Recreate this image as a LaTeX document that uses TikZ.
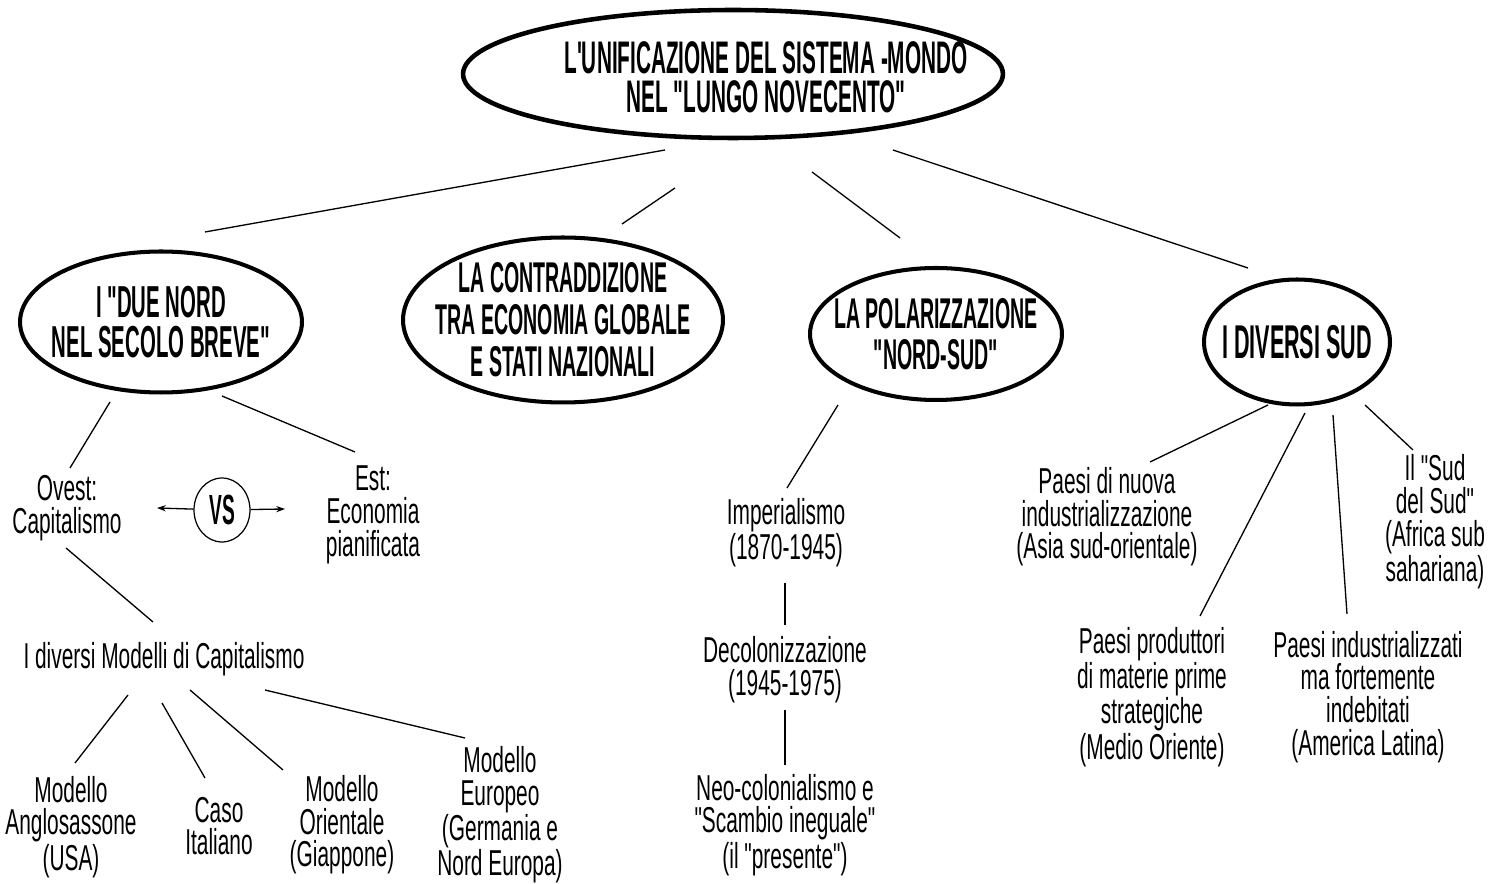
\documentclass[tikz,border=0pt]{standalone}
\usepackage{fontspec}
\setmainfont{Liberation Sans}
\newfontfamily\headfont{Liberation Sans}[FakeStretch=0.455]
\newfontfamily\bodyfont{Liberation Sans}[FakeStretch=0.58]
\usetikzlibrary{shapes.geometric, arrows.meta, calc}
\tikzset{
  bigoval/.style={ellipse, draw, line width=2.3pt, align=center, inner sep=-1.2cm},
  ovaltext/.style 2 args={align=center, font=\headfont\bfseries\fontsize{#1}{#2}\selectfont},
  leaf/.style={align=center, inner sep=1pt, font=\bodyfont\fontsize{20.5}{18.6}\selectfont},
  link/.style={line width=0.75pt},
}

\begin{document}
\begin{tikzpicture}[x=0.02cm, y=-0.02cm]
      \useasboundingbox (0,0) rectangle (1489,884);

      \node[bigoval, line width=2.6pt, minimum width=10.8cm, minimum height=2.56cm] (mondo) at (733,74) {};
      \node[ovaltext={26}{22}, inner sep=0pt] (mondotesto) at (766,77) {L'UNIFICAZIONE DEL SISTEMA -MONDO\\NEL "LUNGO NOVECENTO"};

      \node[bigoval, ovaltext={25.5}{22.5}, minimum width=5.64cm, minimum height=2.82cm] (nord) at (161,322) {I "DUE NORD\\NEL SECOLO BREVE"};
      \node[bigoval, ovaltext={24.5}{24}, minimum width=6.4cm, minimum height=3.3cm] (contr) at (563,320) {LA CONTRADDIZIONE\\TRA ECONOMIA GLOBALE\\E STATI NAZIONALI};
      \node[bigoval, ovaltext={24.5}{23}, minimum width=5.04cm, minimum height=2.64cm] (polar) at (936,334) {LA POLARIZZAZIONE\\"NORD-SUD"};
      \node[bigoval, ovaltext={27}{22}, minimum width=3.72cm, minimum height=2.5cm] (sud) at (1297,342) {I DIVERSI SUD};

      \node[leaf] (ovest) at (67,508) {Ovest:\\Capitalismo};
      \node[ellipse, draw, line width=0.7pt, inner sep=0pt, minimum width=1.12cm, minimum height=1.28cm,
        ovaltext={24}{20}] (vs) at (222,510) {VS};
      \node[leaf] (est) at (373,515) {Est:\\Economia\\pianificata};
      \node[leaf] (modelli) at (164,659) {I diversi Modelli di Capitalismo};
      \node[leaf] (anglo) at (71,827) {Modello\\Anglosassone\\(USA)};
      \node[leaf] (italia) at (219,826) {Caso\\Italiano};
      \node[leaf] (oriente) at (342,825) {Modello\\Orientale\\(Giappone)};
      \node[leaf] (europa) at (500,815) {Modello\\Europeo\\(Germania e\\Nord Europa)};

      \node[leaf] (imper) at (786,533) {Imperialismo\\(1870-1945)};
      \node[leaf] (decol) at (785,670) {Decolonizzazione\\(1945-1975)};
      \node[leaf] (neocol) at (785,825) {Neo-colonialismo e\\"Scambio ineguale"\\(il "presente")};

      \node[leaf] (nuovi) at (1107,517) {Paesi di nuova\\industrializzazione\\(Asia sud-orientale)};
      \node[leaf] (sudsud) at (1435,522) {Il "Sud\\del Sud"\\(Africa sub\\sahariana)};
      \node[leaf] (materie) at (1152,697) {Paesi produttori\\di materie prime\\strategiche\\(Medio Oriente)};
      \node[leaf] (debito) at (1368,697) {Paesi industrializzati\\ma fortemente\\indebitati\\(America Latina)};

      % rami principali
      \draw[link] ($(mondo)+(-68,76)$) -- ($(nord)+(44,-90)$);
      \draw[link] ($(mondo)+(-58,114)$) -- ($(contr)+(59,-96)$);
      \draw[link] ($(mondo)+(79,98)$) -- ($(polar)+(-36,-96)$);
      \draw[link] ($(mondo)+(160,76)$) -- ($(sud)+(-49,-74)$);

      % due nord
      \draw[link] ($(nord)+(-51,80)$) -- ($(ovest)+(3,-40)$);
      \draw[link] ($(nord)+(61,74)$) -- ($(est)+(-18,-63)$);
      \draw[link, -{Stealth[length=5pt, width=3.5pt]}] (vs) -- ($(ovest)+(90,0)$);
      \draw[link, -{Stealth[length=5pt, width=3.5pt]}] (vs) -- ($(est)+(-88,-6)$);
      \draw[link] ($(ovest)+(-1,40)$) -- ($(modelli)+(-11,-37)$);
      \draw[link] ($(modelli)+(-36,36)$) -- ($(anglo)+(4,-64)$);
      \draw[link] ($(modelli)+(-2,44)$) -- ($(italia)+(-14,-48)$);
      \draw[link] ($(modelli)+(26,31)$) -- ($(oriente)+(-59,-55)$);
      \draw[link] ($(modelli)+(101,31)$) -- ($(europa)+(-35,-77)$);

      % nord-sud
      \draw[link] ($(polar)+(-98,71)$) -- ($(imper)+(1,-45)$);
      \draw[link] ($(imper)+(-1,50)$) -- ($(decol)+(0,-45)$);
      \draw[link] ($(decol)+(0,40)$) -- ($(neocol)+(0,-60)$);

      % diversi sud
      \draw[link] ($(sud)+(-29,63)$) -- ($(nuovi)+(43,-55)$);
      \draw[link] ($(sud)+(8,71)$) -- ($(materie)+(48,-81)$);
      \draw[link] ($(sud)+(36,73)$) -- ($(debito)+(-21,-83)$);
      \draw[link] ($(sud)+(68,63)$) -- ($(sudsud)+(-22,-72)$);
\end{tikzpicture}
\end{document}
